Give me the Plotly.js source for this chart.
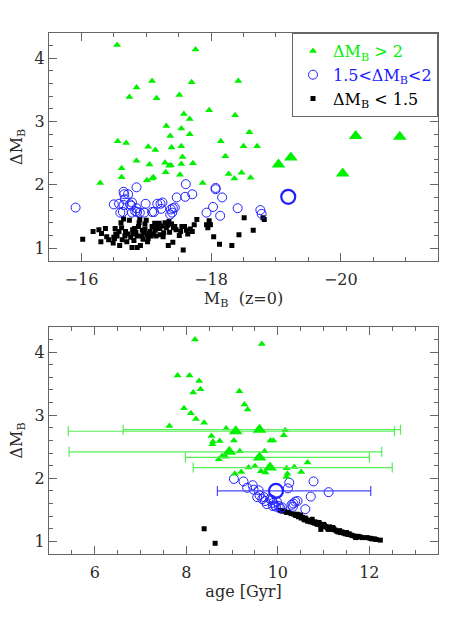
<!DOCTYPE html>
<html>
<head>
<meta charset="utf-8">
<script src="https://cdn.plot.ly/plotly-3.0.1.min.js"></script>
<style>
  body { margin: 0; background: #fff; }
  #chart { width: 463px; height: 617px; }
</style>
</head>
<body>
<div id="chart"></div>
<script>
// ---- top panel: Delta M_B vs M_B(z=0) ----
const topGreenMag = [
  -16.55, -17.76, -17.09, -17.70, -18.42, -16.85, -16.74, -17.16, -17.51, -17.97,
  -17.58, -17.67, -18.37, -17.31, -17.54, -17.37, -17.67, -18.59, -16.56, -16.69,
  -17.03, -17.14, -17.39, -17.54, -18.15, -18.50, -18.71, -16.85, -17.05, -17.29,
  -17.35, -17.38, -17.54, -17.72, -17.56, -18.22, -16.62, -16.62, -17.09, -17.11,
  -17.01, -17.30, -17.52, -18.27, -18.47, -18.36, -18.61, -16.29, -17.87
];
const topGreenDM = [
  4.21, 4.14, 3.64, 3.62, 3.64, 3.54, 3.39, 3.37, 3.42, 3.18,
  3.12, 3.04, 3.10, 2.93, 2.89, 2.77, 2.80, 2.83, 2.69, 2.66,
  2.60, 2.55, 2.59, 2.61, 2.69, 2.61, 2.61, 2.38, 2.32, 2.35,
  2.30, 2.31, 2.33, 2.34, 2.44, 2.45, 2.26, 2.12, 2.10, 2.12,
  2.07, 2.20, 2.16, 2.17, 2.19, 2.10, 2.11, 2.03, 2.03
];

const topBlueMag = [
  -15.91, -16.65, -16.66, -16.72, -16.85, -16.67, -16.50, -16.58, -16.65, -16.75,
  -16.78, -16.85, -16.60, -16.64, -16.78, -16.86, -16.90, -16.99, -17.09, -17.12,
  -17.17, -17.22, -17.25, -17.23, -17.38, -17.40, -17.41, -17.44, -17.47, -17.61,
  -17.60, -17.71, -17.93, -18.03, -18.07, -18.07, -18.17, -18.14, -18.41, -18.76,
  -18.78, -16.77, -16.97, -17.37, -16.83
];
const topBlueDM = [
  1.64, 1.89, 1.85, 1.85, 1.96, 1.77, 1.69, 1.70, 1.68, 1.69,
  1.72, 1.63, 1.56, 1.57, 1.56, 1.57, 1.56, 1.70, 1.57, 1.57,
  1.70, 1.70, 1.72, 1.62, 1.61, 1.56, 1.63, 1.64, 1.80, 2.01,
  1.81, 1.85, 1.56, 1.65, 1.95, 1.93, 1.80, 1.51, 1.63, 1.60,
  1.54, 1.67, 1.56, 1.53, 1.58
];

const topBlackMag = [
  -16.02, -16.18, -16.27, -16.30, -16.31, -16.37, -16.39, -16.42, -16.49, -16.50,
  -16.52, -16.53, -16.51, -16.55, -16.58, -16.59, -16.61, -16.62, -16.63, -16.65,
  -16.67, -16.68, -16.70, -16.72, -16.74, -16.76, -16.78, -16.79, -16.80, -16.81,
  -16.82, -16.84, -16.86, -16.86, -16.88, -16.89, -16.90, -16.91, -16.93, -16.94,
  -16.95, -16.96, -16.98, -16.98, -17.00, -17.01, -17.02, -17.03, -17.04, -17.06,
  -17.07, -17.09, -17.11, -17.13, -17.14, -17.15, -17.16, -17.18, -17.20, -17.21,
  -17.22, -17.24, -17.26, -17.27, -17.29, -17.31, -17.33, -17.34, -17.35, -17.36,
  -17.39, -17.41, -17.42, -17.44, -17.46, -17.51, -17.53, -17.55, -17.57, -17.59,
  -17.62, -17.64, -17.68, -17.71, -17.74, -17.78, -17.93, -17.95, -17.97, -17.99,
  -18.04, -18.13, -18.32, -18.43, -18.51, -18.65, -18.80, -18.82
];
const topBlackDM = [
  1.14, 1.26, 1.29, 1.10, 1.23, 1.31, 1.18, 1.13, 1.08, 1.17,
  1.31, 1.22, 1.15, 1.19, 1.26, 1.04, 1.40, 1.32, 1.13, 1.46,
  1.19, 1.26, 1.10, 1.22, 1.44, 1.17, 1.01, 1.29, 1.22, 1.12,
  1.31, 1.25, 1.01, 1.19, 1.34, 1.40, 1.45, 1.04, 1.19, 1.28,
  1.14, 1.24, 1.30, 1.38, 1.44, 1.21, 1.10, 1.15, 1.23, 1.26,
  1.19, 1.34, 1.22, 1.39, 1.28, 1.19, 1.32, 1.36, 1.39, 1.31,
  1.21, 1.35, 1.18, 1.24, 1.40, 1.32, 1.36, 1.04, 1.42, 1.25,
  1.38, 1.09, 1.32, 1.34, 1.29, 1.20, 1.26, 1.34, 0.97, 1.34,
  1.28, 1.22, 1.30, 1.26, 1.37, 1.45, 1.37, 1.32, 1.43, 1.37,
  1.18, 1.06, 1.04, 1.21, 1.48, 1.28, 1.48, 1.45
];

// the highlighted objects (big symbols)
const bigTriMag = [-20.23, -20.91, -19.04, -19.23, -20.03];
const bigTriDM = [2.77, 2.76, 2.32, 2.43, 2.18];
const bigCircMag = [-19.19];
const bigCircDM = [1.81];

// ---- bottom panel: Delta M_B vs age ----
const botGreenAge = [
  8.19, 7.81, 8.07, 8.28, 8.15, 8.31, 9.16, 9.27, 9.34, 7.95,
  8.10, 8.21, 8.39, 7.63, 8.87, 8.55, 8.58, 8.57, 8.73, 9.04,
  9.17, 8.78, 8.71, 8.86, 9.36, 9.50, 9.06, 9.20, 9.65, 10.16,
  10.13, 9.84, 9.90, 9.71, 9.63, 9.73, 10.19, 10.36, 10.65, 10.51,
  10.21, 10.19
];
const botGreenDM = [
  4.20, 3.63, 3.63, 3.54, 3.36, 3.41, 3.38, 3.17, 3.09, 3.11,
  3.03, 2.94, 2.88, 2.83, 2.79, 2.67, 2.58, 2.54, 2.59, 2.60,
  2.43, 2.35, 2.30, 2.34, 2.17, 2.19, 2.07, 2.10, 4.13, 2.76,
  2.68, 2.60, 2.60, 2.43, 2.11, 2.09, 2.16, 2.18, 2.25, 2.10,
  2.07, 2.02
];

const botBlueAge = [
  9.25, 9.33, 9.45, 9.47, 9.58, 9.60, 9.55, 9.66, 9.70, 9.72,
  9.76, 9.83, 9.87, 9.90, 9.93, 9.98, 9.96, 9.89, 10.02, 10.09,
  10.06, 10.22, 10.25, 10.72, 10.78, 11.11, 10.34, 10.38, 10.43, 10.30,
  10.33, 10.60, 9.04
];
const botBlueDM = [
  1.95, 1.85, 1.89, 1.82, 1.81, 1.73, 1.70, 1.67, 1.70, 1.64,
  1.59, 1.67, 1.66, 1.61, 1.57, 1.63, 1.55, 1.56, 1.56, 1.54,
  1.52, 1.84, 1.93, 1.71, 1.95, 1.78, 1.60, 1.63, 1.64, 1.58,
  1.55, 1.51, 1.99
];

const botBlackAge = [
  8.39, 8.63, 10.05, 10.11, 10.15, 10.19, 10.23, 10.29, 10.35, 10.39,
  10.42, 10.45, 10.48, 10.51, 10.54, 10.57, 10.59, 10.62, 10.65, 10.68,
  10.71, 10.74, 10.77, 10.80, 10.81, 10.84, 10.87, 10.90, 10.93, 10.94,
  10.96, 10.99, 11.02, 11.05, 11.08, 11.10, 11.13, 11.16, 11.19, 11.22,
  11.25, 11.29, 11.32, 11.37, 11.40, 11.44, 11.48, 11.53, 11.56, 11.60,
  11.64, 11.69, 11.73, 11.76, 11.80, 11.85, 11.95, 12.01, 12.05, 12.11,
  12.15, 12.24, 10.60, 10.75, 10.50, 10.90, 11.00, 11.10, 11.20, 11.35,
  11.50, 11.70
];
const botBlackDM = [
  1.20, 0.97, 1.49, 1.48, 1.48, 1.46, 1.46, 1.44, 1.43, 1.41,
  1.43, 1.39, 1.40, 1.37, 1.38, 1.35, 1.34, 1.35, 1.32, 1.33,
  1.31, 1.32, 1.30, 1.29, 1.31, 1.28, 1.27, 1.28, 1.26, 1.19,
  1.25, 1.24, 1.25, 1.23, 1.22, 1.21, 1.23, 1.20, 1.19, 1.20,
  1.18, 1.16, 1.15, 1.14, 1.15, 1.13, 1.12, 1.11, 1.12, 1.10,
  1.09, 1.08, 1.07, 1.08, 1.07, 1.06, 1.06, 1.05, 1.04, 1.04,
  1.03, 1.02, 1.37, 1.35, 1.42, 1.30, 1.27, 1.19, 1.22, 1.17,
  1.14, 1.06
];

// big symbols with age ranges (low / high end of the bar)
const bigTriAge = [9.08, 9.60, 8.94, 9.60, 9.83];
const bigTriAgeDM = [2.745, 2.77, 2.42, 2.33, 2.17];
const bigTriAgeLo = [5.42, 6.62, 5.44, 7.98, 8.15];
const bigTriAgeHi = [12.55, 12.68, 12.27, 12.00, 12.50];
const bigCircAge = [9.96];
const bigCircAgeDM = [1.80];
const bigCircAgeLo = [8.68];
const bigCircAgeHi = [12.03];

const GREEN = '#00f000';
const BLUE = '#2020ff';
const FONT = 'DejaVu Serif, serif';
const TXT = '#2a2a2a';

function scatter(x, y, symbol, color, size, xa, ya, extra) {
  const isOpen = symbol.indexOf('open') >= 0;
  return Object.assign({
    type: 'scatter', mode: 'markers', x: x, y: y,
    xaxis: xa, yaxis: ya, showlegend: false, hoverinfo: 'skip',
    marker: {
      symbol: symbol, size: size, color: color,
      line: { width: isOpen ? 1 : 0, color: color }
    }
  }, extra || {});
}

function errBars(x, lo, hi, color) {
  return {
    type: 'data', symmetric: false,
    array: hi.map((h, i) => +(h - x[i]).toFixed(3)),
    arrayminus: lo.map((l, i) => +(x[i] - l).toFixed(3)),
    color: color, thickness: 1.2, width: 5
  };
}

const bigCircMarker = { symbol: 'circle-open', size: 14, color: BLUE, line: { width: 2.2, color: BLUE } };

const traces = [
  // top panel
  scatter(topBlackMag, topBlackDM, 'square', '#000', 5, 'x', 'y', {
    showlegend: true, legendrank: 3,
    name: '<span style="color:#000">ΔM<sub>B</sub> &lt; 1.5</span>'
  }),
  scatter(topBlueMag, topBlueDM, 'circle-open', BLUE, 9, 'x', 'y', {
    showlegend: true, legendrank: 2,
    name: '<span style="color:' + BLUE + '">1.5&lt;ΔM<sub>B</sub>&lt;2</span>'
  }),
  scatter(topGreenMag, topGreenDM, 'triangle-up', GREEN, 7, 'x', 'y', {
    showlegend: true, legendrank: 1,
    name: '<span style="color:' + GREEN + '">ΔM<sub>B</sub> &gt; 2</span>'
  }),
  scatter(bigTriMag, bigTriDM, 'triangle-up', GREEN, 12, 'x', 'y'),
  scatter(bigCircMag, bigCircDM, 'circle-open', BLUE, 14, 'x', 'y', { marker: bigCircMarker }),

  // bottom panel
  scatter(botBlackAge, botBlackDM, 'square', '#000', 5, 'x2', 'y2'),
  scatter(botBlueAge, botBlueDM, 'circle-open', BLUE, 9, 'x2', 'y2'),
  scatter(botGreenAge, botGreenDM, 'triangle-up', GREEN, 7, 'x2', 'y2'),
  scatter(bigTriAge, bigTriAgeDM, 'triangle-up', GREEN, 12, 'x2', 'y2', {
    error_x: errBars(bigTriAge, bigTriAgeLo, bigTriAgeHi, '#55ee55')
  }),
  scatter(bigCircAge, bigCircAgeDM, 'circle-open', BLUE, 14, 'x2', 'y2', {
    marker: bigCircMarker,
    error_x: errBars(bigCircAge, bigCircAgeLo, bigCircAgeHi, '#4848ff')
  })
];

function frameAxis(extra) {
  return Object.assign({
    showline: true, mirror: 'allticks', linecolor: '#666', linewidth: 1,
    ticks: 'inside', ticklen: 8, tickcolor: '#666', tickwidth: 1,
    showgrid: false, zeroline: false, autorange: false,
    tickfont: { family: FONT, size: 16, color: TXT }
  }, extra);
}

const titleFont = { family: FONT, size: 16, color: TXT };

const layout = {
  width: 463, height: 617,
  margin: { l: 49, r: 25, t: 33, b: 63 },
  paper_bgcolor: '#fff', plot_bgcolor: '#fff',
  font: { family: FONT, color: TXT },
  xaxis: frameAxis({
    anchor: 'y', range: [-15.5, -21.5], dtick: 2, tick0: 0, ticklabelstandoff: 4,
    minor: { dtick: 0.5, ticks: 'inside', ticklen: 4, tickcolor: '#666' },
    title: { text: 'M<sub>B</sub>  (z=0)', standoff: 4, font: titleFont }
  }),
  yaxis: frameAxis({
    anchor: 'x', domain: [0.563, 1], range: [0.8, 4.4], dtick: 1, tick0: 0,
    minor: { dtick: 0.2, ticks: 'inside', ticklen: 4, tickcolor: '#666' },
    title: { text: 'ΔM<sub>B</sub>', standoff: 8, font: titleFont }
  }),
  xaxis2: frameAxis({
    anchor: 'y2', range: [5, 13.5], dtick: 2, tick0: 0, ticklabelstandoff: 4,
    minor: { dtick: 0.5, ticks: 'inside', ticklen: 4, tickcolor: '#666' },
    title: { text: 'age [Gyr]', standoff: 4, font: titleFont }
  }),
  yaxis2: frameAxis({
    anchor: 'x2', domain: [0, 0.436], range: [0.8, 4.4], dtick: 1, tick0: 0,
    minor: { dtick: 0.2, ticks: 'inside', ticklen: 4, tickcolor: '#666' },
    title: { text: 'ΔM<sub>B</sub>', standoff: 8, font: titleFont }
  }),
  showlegend: true,
  legend: {
    x: 1, xanchor: 'right', y: 1, yanchor: 'top',
    bgcolor: '#fff', bordercolor: '#666', borderwidth: 1,
    font: { family: FONT, size: 16 },
    itemwidth: 30, tracegroupgap: 0
  }
};

Plotly.newPlot('chart', traces, layout, { staticPlot: true });
</script>
</body>
</html>
